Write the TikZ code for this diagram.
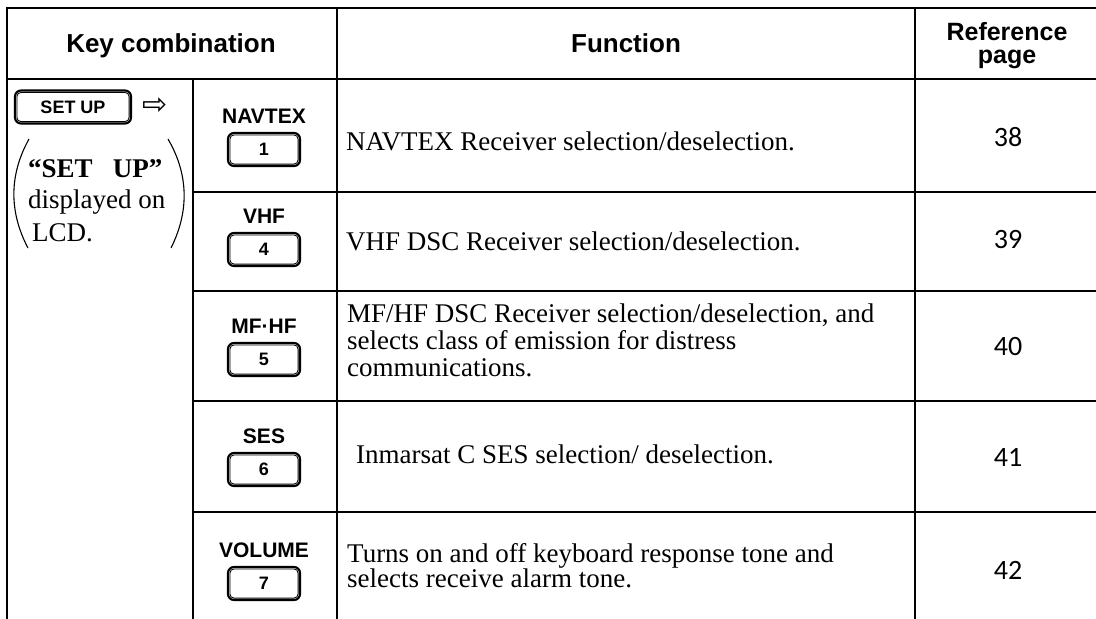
\documentclass[tikz,border=0pt]{standalone}
\usepackage{fontspec}
\setmainfont{Liberation Serif}
\newfontfamily\hsans{Liberation Sans}
\newfontfamily\numfont{Carlito}
\newfontfamily\symfont{DejaVu Sans}
\newcommand{\mykey}[5]{%
  \node[keyouter,minimum width=#5] (#1) at (#2,#3) {#4};
  \draw[keyinner] ([shift={(3,-3)}]#1.south west) rectangle ([shift={(-3,3)}]#1.north east);
}
\begin{document}
\begin{tikzpicture}[x=1pt,y=-1pt,
  thickrule/.style={line width=2.6pt},
  thinrule/.style={line width=1.2pt},
  hdr/.style={font=\hsans\bfseries\fontsize{26}{26}\selectfont, inner sep=0, anchor=base},
  lbl/.style={font=\hsans\bfseries\fontsize{21}{21}\selectfont, inner sep=0, anchor=base},
  body/.style={font=\fontsize{27}{27}\selectfont, inner sep=0, anchor=base west, align=left},
  refnum/.style={font=\numfont\fontsize{28}{28}\selectfont, inner sep=0},
  keyouter/.style={draw, line width=2.1pt, rounded corners=6pt, minimum height=33pt, inner sep=0,
    font=\hsans\bfseries\fontsize{18}{18}\selectfont},
  keyinner/.style={line width=0.9pt, rounded corners=4pt},
  paren/.style={line width=1.1pt}
]
\useasboundingbox (0,0) rectangle (1096,619);
\fill[white] (0,0) rectangle (1096,619);

% rules
\draw[thickrule] (7,8) -- (1096,8);
\draw[thickrule] (7,79) -- (1096,79);
\draw[thickrule] (7,6.7) -- (7,619);
\draw[thinrule] (337,8) -- (337,619);
\draw[thinrule] (915,8) -- (915,619);
\draw[thinrule] (193,79) -- (193,619);
\foreach \yy in {192,291,401,512} \draw[thinrule] (193,\yy) -- (1096,\yy);

% header
\node[hdr] (hkey) at (171,52) {Key combination};
\node[hdr] (hfun) at (626,52) {Function};
\node[hdr, font=\hsans\bfseries\fontsize{25}{25}\selectfont] (href1) at (1007,40) {Reference};
\node[hdr, font=\hsans\bfseries\fontsize{25}{25}\selectfont] (href2) at (1007,63) {page};

% SET UP key, arrow and note
\mykey{setup}{73}{107}{SET UP}{116pt}
\node[font=\symfont\fontsize{30}{30}\selectfont, inner sep=0] (arr) at (155,106) {⇨};
\node[body] (p1) at (28,177) {\bfseries “SET\hspace{0.75em}UP”};
\node[body] (p2) at (28,208) {displayed on};
\node[body] (p3) at (32,241) {LCD.};
\draw[paren] (29,139) .. controls (9,175) and (9,212) .. (28,248);
\draw[paren] (168,139) .. controls (189,175) and (189,212) .. (171,248);

% key column
\node[lbl] (l1) at (264,123) {NAVTEX};
\mykey{k1}{264}{149.5}{1}{72pt}
\node[lbl] (l2) at (264,223) {VHF};
\mykey{k4}{264}{249.5}{4}{72pt}
\node[lbl] (l3) at (264,333) {MF·HF};
\mykey{k5}{264}{359.5}{5}{72pt}
\node[lbl] (l4) at (264,443) {SES};
\mykey{k6}{264}{469.5}{6}{72pt}
\node[lbl] (l5) at (264,557) {VOLUME};
\mykey{k7}{264}{583.5}{7}{72pt}

% function column (base anchor = baseline of the last line)
\node[body] (f1) at (346,150) {NAVTEX Receiver selection/deselection.};
\node[body] (f2) at (346,250) {VHF DSC Receiver selection/deselection.};
\node[body, font=\fontsize{27}{27}\selectfont] (f3) at (347,376) {MF/HF DSC Receiver selection/deselection, and\\selects class of emission for distress\\communications.};
\node[body] (f4) at (356,463) {Inmarsat C SES selection/ deselection.};
\node[body, font=\fontsize{27}{25}\selectfont] (f5) at (347,587) {Turns on and off keyboard response tone and\\selects receive alarm tone.};

% reference pages
\node[refnum] (r1) at (1008,137) {38};
\node[refnum] (r2) at (1008,240) {39};
\node[refnum] (r3) at (1008,347) {40};
\node[refnum] (r4) at (1008,457) {41};
\node[refnum] (r5) at (1008,570) {42};
\end{tikzpicture}
\end{document}
